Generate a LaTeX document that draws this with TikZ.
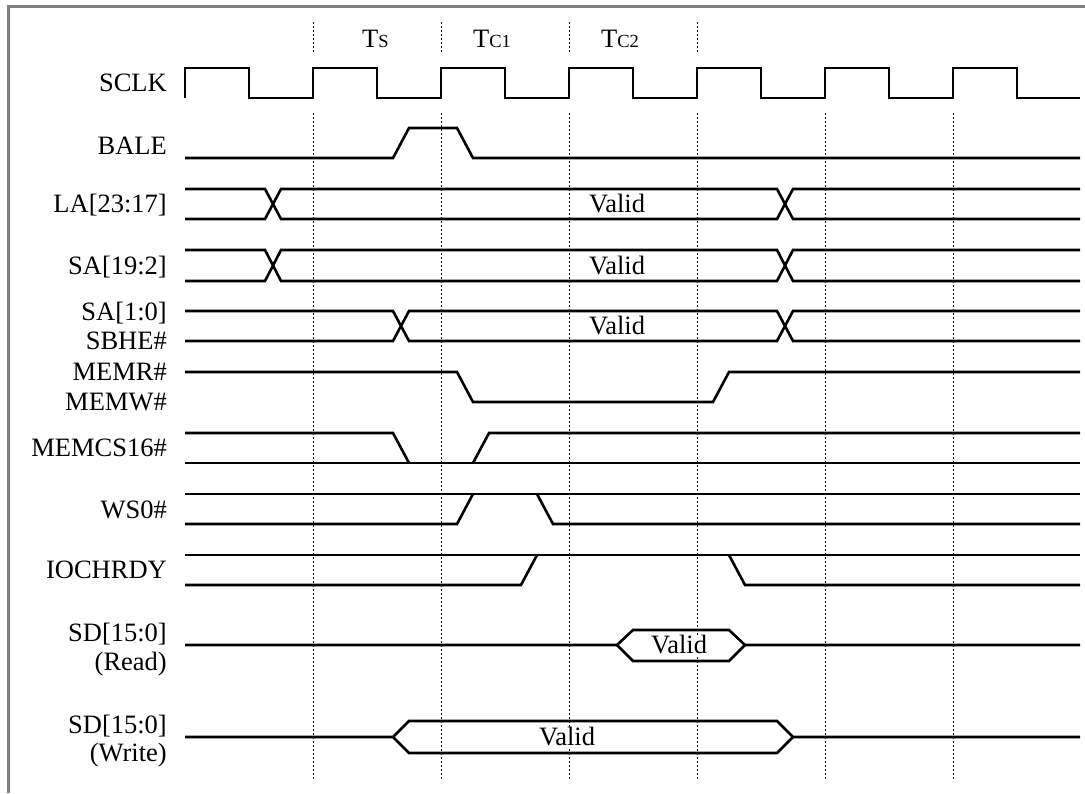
\documentclass[tikz,border=0pt]{standalone}
\usepackage{fontspec}
\setmainfont{Liberation Serif}
\tikzset{
  wave/.style={line width=2.6pt},
  gridline/.style={line width=0.9pt, dash pattern=on 2pt off 2pt},
  siglabel/.style={anchor=east, inner sep=0pt, text height=17pt, text depth=0pt, font=\fontsize{26.5}{30}\selectfont},
  busval/.style={fill=white, inner sep=1pt, text height=17pt, text depth=0pt, font=\fontsize{26.5}{30}\selectfont},
  phase/.style={anchor=base west, inner sep=0pt, font=\fontsize{26.5}{30}\selectfont}
}
\newcommand{\subcap}[1]{{\fontsize{18.5}{20}\selectfont #1}}
\begin{document}
\begin{tikzpicture}[x=1pt,y=-1pt]
        \useasboundingbox (0,0) rectangle (1085,793);
        % frame
        \draw[gray, line width=3pt] (8,793) -- (8,6) -- (1085,6);

        % cycle markers
        \node[phase] (ts) at (362,47) {T\subcap{S}};
        \node[phase] (tc1) at (473,47) {T\subcap{C1}};
        \node[phase] (tc2) at (601,47) {T\subcap{C2}};
        \draw[gridline] (313,22) -- (313,53);
        \draw[gridline] (441,22) -- (441,53);
        \draw[gridline] (569,22) -- (569,53);
        \draw[gridline] (697,22) -- (697,53);
        \draw[gridline] (313,113) -- (313,779);
        \draw[gridline] (441,113) -- (441,779);
        \draw[gridline] (569,113) -- (569,779);
        \draw[gridline] (697,113) -- (697,779);
        \draw[gridline] (825,113) -- (825,779);
        \draw[gridline] (953,113) -- (953,781);

        % signal names
        \node[siglabel] (sclk) at (167,83) {SCLK};
        \node[siglabel] (bale) at (167,146) {BALE};
        \node[siglabel] (la) at (167,204) {LA[23:17]};
        \node[siglabel] (sahi) at (167,266) {SA[19:2]};
        \node[siglabel] (salo) at (167,312) {SA[1:0]};
        \node[siglabel] (sbhe) at (167,341) {SBHE\#};
        \node[siglabel] (memr) at (167,372) {MEMR\#};
        \node[siglabel] (memw) at (167,402) {MEMW\#};
        \node[siglabel] (memcs) at (167,448) {MEMCS16\#};
        \node[siglabel] (ws) at (167,510) {WS0\#};
        \node[siglabel] (iochrdy) at (167,570) {IOCHRDY};
        \node[siglabel] (sdr) at (167,633) {SD[15:0]};
        \node[siglabel] (sdrnote) at (167,662) {(Read)};
        \node[siglabel] (sdw) at (167,725) {SD[15:0]};
        \node[siglabel] (sdwnote) at (167,753) {(Write)};

        % waveforms
        \draw[wave] (185,98) -- (185,68) -- (249,68) -- (249,98) -- (313,98) -- (313,68) -- (377,68) -- (377,98)
          -- (441,98) -- (441,68) -- (505,68) -- (505,98) -- (569,98) -- (569,68) -- (633,68) -- (633,98)
          -- (697,98) -- (697,68) -- (761,68) -- (761,98) -- (825,98) -- (825,68) -- (889,68) -- (889,98)
          -- (953,98) -- (953,68) -- (1017,68) -- (1017,98) -- (1080,98);
        \draw[wave] (185,158) -- (393,158) -- (409,128) -- (457,128) -- (473,158) -- (1080,158);

        \draw[wave] (185,189) -- (265,189) -- (281,219) -- (777,219) -- (793,189) -- (1080,189);
        \draw[wave] (185,219) -- (265,219) -- (281,189) -- (777,189) -- (793,219) -- (1080,219);
        \node[busval] (laval) at (617,204) {Valid};

        \draw[wave] (185,250) -- (265,250) -- (281,281) -- (777,281) -- (793,250) -- (1080,250);
        \draw[wave] (185,281) -- (265,281) -- (281,250) -- (777,250) -- (793,281) -- (1080,281);
        \node[busval] (sahival) at (617,266) {Valid};

        \draw[wave] (185,311) -- (393,311) -- (409,341) -- (777,341) -- (793,311) -- (1080,311);
        \draw[wave] (185,341) -- (393,341) -- (409,311) -- (777,311) -- (793,341) -- (1080,341);
        \node[busval] (saloval) at (617,326) {Valid};

        \draw[wave] (185,372) -- (457,372) -- (473,402) -- (713,402) -- (729,372) -- (1080,372);

        \draw[wave] (185,433) -- (393,433) -- (409,463);
        \draw[wave] (473,463) -- (489,433) -- (1080,433);
        \draw[wave] (185,463) -- (1080,463);

        \draw[wave] (185,494) -- (1080,494);
        \draw[wave] (185,524) -- (457,524) -- (473,494);
        \draw[wave] (537,494) -- (553,524) -- (1080,524);

        \draw[wave] (185,555) -- (1080,555);
        \draw[wave] (185,585) -- (521,585) -- (537,555);
        \draw[wave] (729,555) -- (745,585) -- (1080,585);

        \draw[wave] (185,645) -- (617,645) -- (633,630) -- (729,630) -- (745,645) -- (1080,645);
        \draw[wave] (617,645) -- (633,661) -- (729,661) -- (745,645);
        \node[busval] (sdrval) at (679,645) {Valid};

        \draw[wave] (185,737) -- (393,737) -- (409,721) -- (777,721) -- (793,737) -- (1080,737);
        \draw[wave] (393,737) -- (409,753) -- (777,753) -- (793,737);
        \node[busval] (sdwval) at (567,737) {Valid};
    \end{tikzpicture}
\end{document}
